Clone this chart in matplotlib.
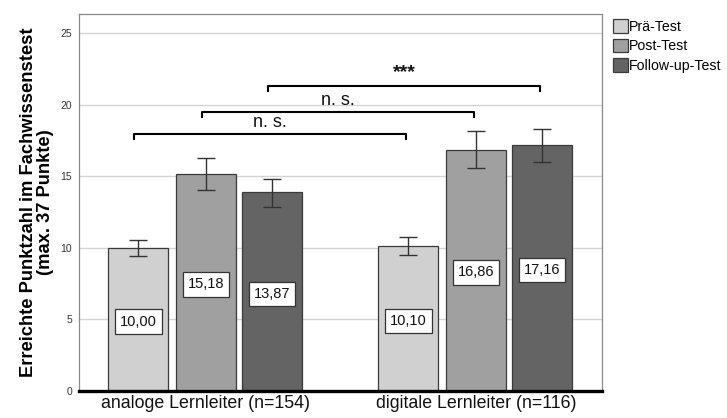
import matplotlib
matplotlib.use("Agg")
import matplotlib.pyplot as plt
import numpy as np
from matplotlib.patches import Patch

plt.rcParams['font.family'] = ['Liberation Sans', 'DejaVu Sans']

groups = ["analoge Lernleiter (n=154)", "digitale Lernleiter (n=116)"]
series = ["Prä-Test", "Post-Test", "Follow-up-Test"]
means = {
    "Prä-Test": [10.00, 10.10],
    "Post-Test": [15.18, 16.86],
    "Follow-up-Test": [13.87, 17.16],
}
err_low = {
    "Prä-Test": [9.45, 9.47],
    "Post-Test": [14.04, 15.55],
    "Follow-up-Test": [12.87, 16.01],
}
err_high = {
    "Prä-Test": [10.52, 10.73],
    "Post-Test": [16.29, 18.16],
    "Follow-up-Test": [14.80, 18.27],
}
labels = {
    "Prä-Test": ["10,00", "10,10"],
    "Post-Test": ["15,18", "16,86"],
    "Follow-up-Test": ["13,87", "17,16"],
}
colors = ["#d0d0d0", "#a0a0a0", "#646464"]
# brackets: (series index left group, series index right group, height, label)
brackets = [(0, 0, 17.95, "n. s."), (1, 1, 19.5, "n. s."), (2, 2, 21.3, "***")]
yticks = [0, 5, 10, 15, 20, 25]

fig = plt.figure(figsize=(7.27, 4.18), dpi=100)
ax = fig.add_axes([0.1087, 0.0646, 0.828 - 0.1087, 0.9665 - 0.0646])

x = np.arange(len(groups))
width = 0.222
offsets = [-0.250, 0.0, 0.245]

for i, s in enumerate(series):
    xs = x + offsets[i]
    m = np.array(means[s])
    lo = m - np.array(err_low[s])
    hi = np.array(err_high[s]) - m
    ax.bar(xs, m, width=width, color=colors[i], edgecolor="#3a3a3a",
           linewidth=0.9, zorder=2)
    ax.errorbar(xs, m, yerr=[lo, hi], fmt="none", ecolor="#333333",
                elinewidth=1.0, capsize=6.5, capthick=1.0, zorder=3)
    for xi, mi, lab in zip(xs, m, labels[s]):
        ax.text(xi, mi / 2 - 0.15, lab, ha="center", va="center", fontsize=10.5,
                color="#111111", zorder=4,
                bbox=dict(boxstyle="square,pad=0.35", fc="white", ec="#333333", lw=0.9))

for si_l, si_r, h, lab in brackets:
    xl = x[0] + offsets[si_l] - 0.015
    xr = x[1] + offsets[si_r] - 0.008
    drop = 0.45
    ax.plot([xl, xl, xr, xr], [h - drop, h, h, h - drop], color="black",
            lw=1.5, zorder=5, solid_capstyle="butt")
    if lab == "***":
        ax.text((xl + xr) / 2, h + 0.35, lab, ha="center", va="bottom", fontsize=14,
                fontweight="bold", color="#111111", zorder=5)
    else:
        ax.text((xl + xr) / 2, h + 0.2, lab, ha="center", va="bottom", fontsize=13,
                color="#111111", zorder=5)

ax.set_xlim(-0.470, 1.467)
ax.set_ylim(0, 26.33)
ax.set_yticks(yticks)
ax.set_yticklabels([str(t) for t in yticks], fontsize=7.5, color="#333333")
ax.set_xticks(x)
ax.set_xticklabels(groups, fontsize=12.8, color="#111111")
ax.tick_params(axis="both", length=0)
ax.tick_params(axis="y", pad=5)
ax.tick_params(axis="x", pad=3)
ax.yaxis.grid(True, color="#d4d4d4", lw=1.0, zorder=0)
ax.set_axisbelow(True)
for side in ["left", "right", "top"]:
    ax.spines[side].set_color("#8a8a8a")
    ax.spines[side].set_linewidth(0.9)
ax.spines["bottom"].set_color("black")
ax.spines["bottom"].set_linewidth(2.4)

ax.set_ylabel("Erreichte Punktzahl im Fachwissenstest\n(max. 37 Punkte)",
              fontsize=13.2, fontweight="bold", labelpad=5, linespacing=0.95)

handles = [Patch(facecolor=c, edgecolor="#3a3a3a", lw=0.9) for c in colors]
leg = fig.legend(handles, series, loc="upper left", bbox_to_anchor=(0.836, 0.968),
                 frameon=False, fontsize=10.2, handlelength=1.0, handleheight=1.1,
                 handletextpad=0.12, labelspacing=0.35, borderaxespad=0)

fig.savefig("out.png", dpi=100)
